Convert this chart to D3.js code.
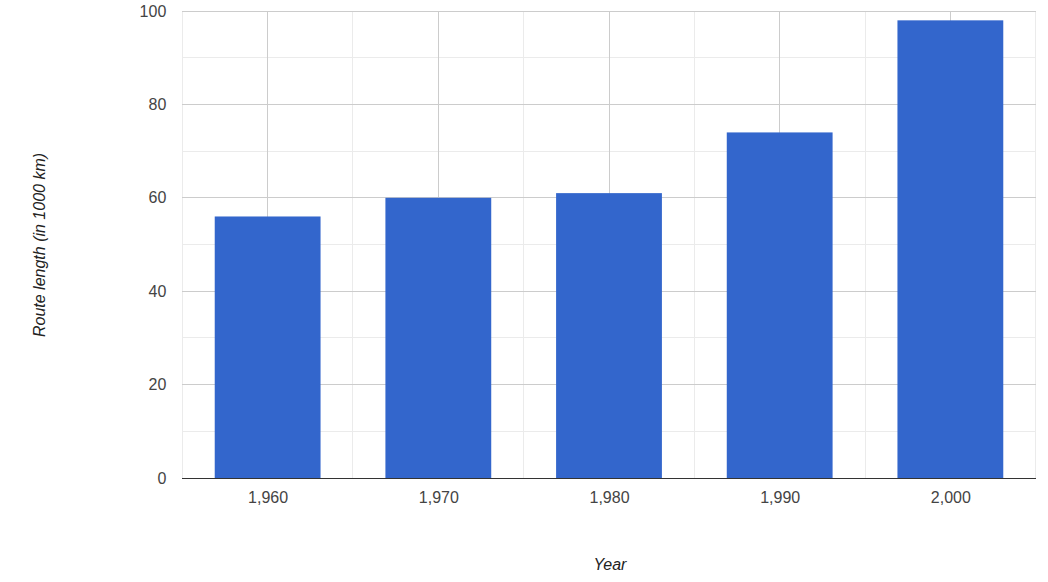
<!DOCTYPE html>
<html><head><meta charset="utf-8">
<script src="https://cdn.jsdelivr.net/npm/d3@7"></script>
<style>body{margin:0;background:#fff}svg{display:block;font-family:"Liberation Sans",Arial,sans-serif}</style>
</head><body>
<svg id="c" width="1048" height="582"></svg>
<script>
const years = [1960, 1970, 1980, 1990, 2000];
const routeLength = [56, 60, 61, 74, 98];
const yTicks = [0, 20, 40, 60, 80, 100];
const xTicks = [1960, 1970, 1980, 1990, 2000];

const svg = d3.select("#c");
const L = 182.3, R = 1035.7, T = 11, B = 478;
const x = d3.scaleLinear().domain([1955, 2005]).range([L, R]);
const y = d3.scaleLinear().domain([0, 100]).range([B, T]);

// minor gridlines
const minorY = d3.range(10, 100, 20);
svg.append("g").selectAll("line").data(minorY).join("line")
  .attr("x1", L).attr("x2", R).attr("y1", d => y(d)).attr("y2", d => y(d))
  .attr("stroke", "#ebebeb").attr("stroke-width", 1).attr("shape-rendering","crispEdges");
const minorX = d3.range(1955, 2006, 10);
svg.append("g").selectAll("line").data(minorX).join("line")
  .attr("x1", d => x(d)).attr("x2", d => x(d)).attr("y1", T).attr("y2", B)
  .attr("stroke", "#ebebeb").attr("stroke-width", 1).attr("shape-rendering","crispEdges");
// major gridlines
svg.append("g").selectAll("line").data(yTicks.filter(d => d > 0)).join("line")
  .attr("x1", L).attr("x2", R).attr("y1", d => y(d)).attr("y2", d => y(d))
  .attr("stroke", "#cccccc").attr("stroke-width", 1).attr("shape-rendering","crispEdges");
svg.append("g").selectAll("line").data(xTicks).join("line")
  .attr("x1", d => x(d)).attr("x2", d => x(d)).attr("y1", T).attr("y2", B)
  .attr("stroke", "#cccccc").attr("stroke-width", 1).attr("shape-rendering","crispEdges");

// bars
const bw = x(1966.2) - x(1960);
svg.append("g").selectAll("rect").data(years).join("rect")
  .attr("x", (d) => x(d) - bw / 2)
  .attr("width", bw)
  .attr("y", (d, i) => y(routeLength[i]))
  .attr("height", (d, i) => y(0) - y(routeLength[i]))
  .attr("fill", "#3366cc");

// baseline
svg.append("line").attr("x1", L).attr("x2", R).attr("y1", y(0)).attr("y2", y(0))
  .attr("stroke", "#333").attr("stroke-width", 1).attr("shape-rendering","crispEdges");

// y axis labels
const yAxis = d3.axisLeft(y).tickValues(yTicks).tickSize(0).tickPadding(16).tickFormat(d3.format(","));
const gy = svg.append("g").attr("transform", `translate(${L},0)`).call(yAxis);
gy.select(".domain").remove();
gy.selectAll("text").attr("font-size", 16).attr("fill", "#444").attr("font-family", "Liberation Sans, Arial, sans-serif");

// x axis labels
const xAxis = d3.axisBottom(x).tickValues(xTicks).tickSize(0).tickPadding(13.5).tickFormat(d3.format(","));
const gx = svg.append("g").attr("transform", `translate(0,${B})`).call(xAxis);
gx.select(".domain").remove();
gx.selectAll("text").attr("font-size", 16).attr("fill", "#444").attr("font-family", "Liberation Sans, Arial, sans-serif");

// titles
svg.append("text").attr("x", 610).attr("y", 570).attr("text-anchor", "middle")
  .attr("font-size", 16).attr("font-style", "italic").attr("fill", "#222").text("Year");
svg.append("text").attr("transform", "translate(45,245) rotate(-90)").attr("text-anchor", "middle")
  .attr("font-size", 16).attr("font-style", "italic").attr("fill", "#222").text("Route length (in 1000 km)");
</script>
</body></html>
